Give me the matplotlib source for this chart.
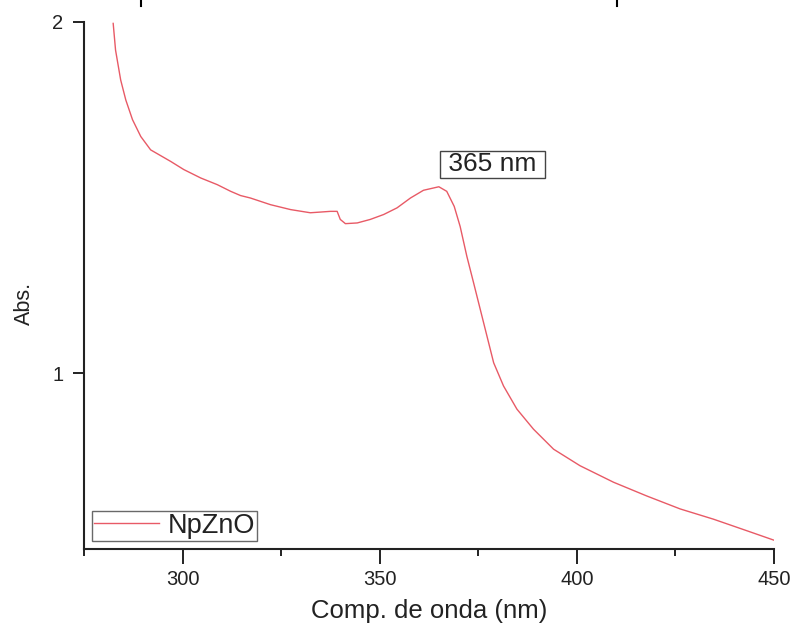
import matplotlib
matplotlib.use("Agg")
import matplotlib.pyplot as plt
from matplotlib.lines import Line2D
from matplotlib.ticker import MultipleLocator, FixedLocator

plt.rcParams["font.family"] = ["Liberation Sans", "DejaVu Sans"]

# Espectro UV-Vis da amostra NpZnO
wavelength = [282.4, 283.0, 284.3, 285.6, 287.3, 289.4, 291.9, 293.6, 297.0, 300.3,
              304.6, 308.8, 312.2, 314.7, 317.2, 322.3, 327.4, 332.4, 335.0, 337.5,
              339.2, 340.0, 341.3, 344.3, 347.6, 351.0, 354.4, 357.8, 361.1, 365.0,
              367.0, 368.9, 370.4, 372.1, 373.8, 375.5, 377.2, 378.9, 381.4, 384.8,
              389.0, 394.1, 400.8, 409.3, 417.7, 426.2, 434.6, 443.1, 450.0]
absorbance = [1.996, 1.920, 1.835, 1.778, 1.722, 1.674, 1.636, 1.625, 1.603, 1.580,
              1.556, 1.537, 1.518, 1.506, 1.499, 1.480, 1.466, 1.457, 1.459, 1.461,
              1.461, 1.438, 1.426, 1.428, 1.438, 1.452, 1.471, 1.499, 1.521, 1.531,
              1.518, 1.475, 1.418, 1.333, 1.258, 1.182, 1.106, 1.030, 0.964, 0.898,
              0.841, 0.784, 0.737, 0.690, 0.651, 0.614, 0.585, 0.552, 0.525]

peak_label = "365 nm"
series_label = "NpZnO"

fig = plt.figure(figsize=(7.94, 6.30), dpi=100)
ax = fig.add_axes([0.1058, 0.1286, 0.869, 0.8365])

ax.plot(wavelength, absorbance, color="#e85a66", lw=1.0, label=series_label,
        solid_joinstyle="round")

ax.set_xlim(275, 450)
ax.set_ylim(0.5, 2.0)

ax.xaxis.set_major_locator(FixedLocator([300, 350, 400, 450]))
ax.xaxis.set_minor_locator(MultipleLocator(25))
ax.yaxis.set_major_locator(FixedLocator([1, 2]))

for side in ("top", "right"):
    ax.spines[side].set_visible(False)
for side in ("left", "bottom"):
    ax.spines[side].set_linewidth(1.5)
    ax.spines[side].set_color("#222222")

ax.tick_params(axis="x", which="major", direction="out", length=11, width=1.4,
               labelsize=14.5, pad=4, color="#222222", labelcolor="#222222")
ax.tick_params(axis="x", which="minor", direction="out", length=5, width=1.4,
               color="#222222")
ax.tick_params(axis="y", which="major", direction="out", length=8, width=1.4,
               labelsize=14.5, pad=7, color="#222222", labelcolor="#222222")

ax.set_xlabel("Comp. de onda (nm)", fontsize=18.5, labelpad=7, color="#222222")
ax.set_ylabel("Abs.", fontsize=15.5, color="#222222")
ax.yaxis.set_label_coords(-0.071, 0.465)

# caixa com o comprimento de onda do máximo de absorção
ax.text(378.6, 1.595, f" {peak_label} ", fontsize=19, ha="center", va="center",
        color="#222222",
        bbox=dict(boxstyle="square,pad=0.06", fc="white", ec="#444444", lw=1.0))

leg = ax.legend(loc="lower left", fontsize=19.5, frameon=True, fancybox=False,
                edgecolor="#444444", borderaxespad=0.3, handlelength=2.4,
                borderpad=0.08, handletextpad=0.3, labelcolor="#222222")
leg.get_frame().set_linewidth(1.0)

# restos de marcas de escala no topo da figura
for xf in (141 / 794, 617 / 794):
    fig.add_artist(Line2D([xf, xf], [1.0, 1 - 6 / 630], transform=fig.transFigure,
                          color="black", lw=1.5))

fig.savefig("out.png", dpi=100)
